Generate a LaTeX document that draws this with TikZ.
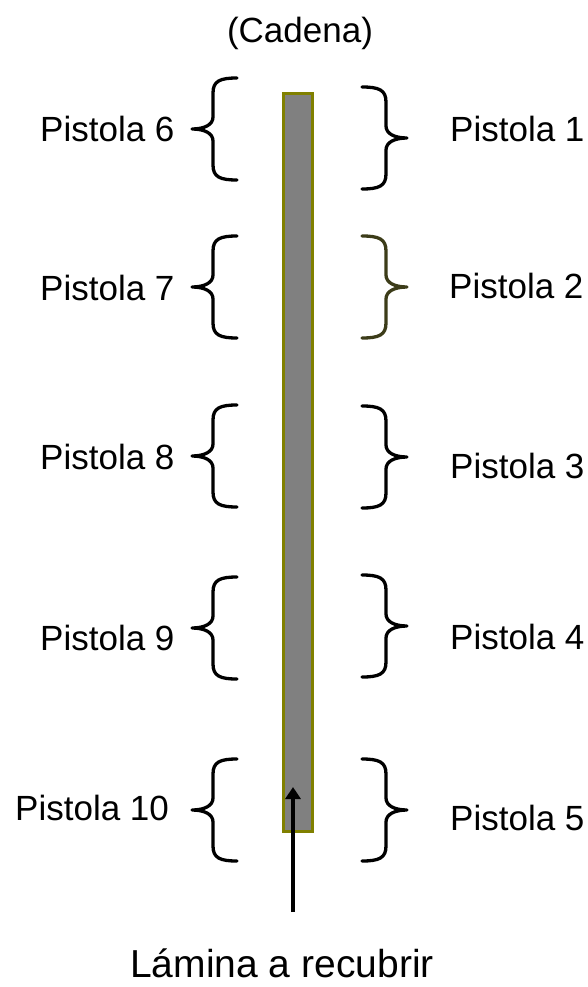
\documentclass[tikz,border=0pt]{standalone}
\usepackage{fontspec}
\setmainfont{Liberation Sans}
\usetikzlibrary{arrows.meta}
\definecolor{olivebd}{RGB}{128,128,0}
\definecolor{platefill}{RGB}{128,128,128}
\definecolor{darkolive}{RGB}{60,60,25}
\tikzset{
  lbl/.style={font=\fontsize{35}{40}\selectfont, inner sep=0pt, anchor=base west},
  bracestroke/.style={line width=3.3pt, line cap=round, line join=round},
  lbrace/.pic={
    \draw[bracestroke, pic actions] (45,-51) .. controls (28,-51) and (21,-48) .. (21,-36) -- (21,-12)
      .. controls (21,-4) and (12,0) .. (0,0)
      .. controls (12,0) and (21,4) .. (21,12) -- (21,36)
      .. controls (21,48) and (28,51) .. (45,51);
  },
  rbrace/.pic={
    \draw[bracestroke, pic actions] (-45,-51) .. controls (-28,-51) and (-21,-48) .. (-21,-36) -- (-21,-12)
      .. controls (-21,-4) and (-12,0) .. (0,0)
      .. controls (-12,0) and (-21,4) .. (-21,12) -- (-21,36)
      .. controls (-21,48) and (-28,51) .. (-45,51);
  }
}
\begin{document}
\begin{tikzpicture}[x=1pt,y=-1pt]
\useasboundingbox (0,0) rectangle (587,987);
% plate
\node[draw=olivebd, fill=platefill, line width=3pt, minimum width=29pt, minimum height=738pt, inner sep=0pt] (lamina) at (298,462.5) {};
% title
\node[font=\fontsize{35}{40}\selectfont, inner sep=0pt, anchor=base] (cadena) at (300,43) {(Cadena)};
% left braces
\pic at (192,129) {lbrace};
\pic at (192,287) {lbrace};
\pic at (192,456) {lbrace};
\pic at (192,628) {lbrace};
\pic at (192,810) {lbrace};
% right braces
\pic at (407,138) {rbrace};
\pic[draw=darkolive] at (407,287) {rbrace};
\pic at (407,457) {rbrace};
\pic at (407,626) {rbrace};
\pic at (407,810) {rbrace};
% left labels
\node[lbl] (p6) at (40,142) {Pistola 6};
\node[lbl] (p7) at (40,300) {Pistola 7};
\node[lbl] (p8) at (40,469) {Pistola 8};
\node[lbl] (p9) at (40,650) {Pistola 9};
\node[lbl] (p10) at (15,820) {Pistola 10};
% right labels
\node[lbl] (p1) at (450,142) {Pistola 1};
\node[lbl] (p2) at (449,298) {Pistola 2};
\node[lbl] (p3) at (450,478) {Pistola 3};
\node[lbl] (p4) at (450,649) {Pistola 4};
\node[lbl] (p5) at (450,830) {Pistola 5};
% bottom label and arrow
\node[font=\fontsize{39}{44}\selectfont, inner sep=0pt, anchor=base] (lamlabel) at (282,977) {Lámina a recubrir};
\coordinate (arrowstart) at (293,912);
\coordinate (arrowtip) at (293,787);
\draw[line width=3.5pt, -{Triangle[length=12pt,width=15pt]}] (arrowstart) -- (arrowtip);
\end{tikzpicture}
\end{document}
